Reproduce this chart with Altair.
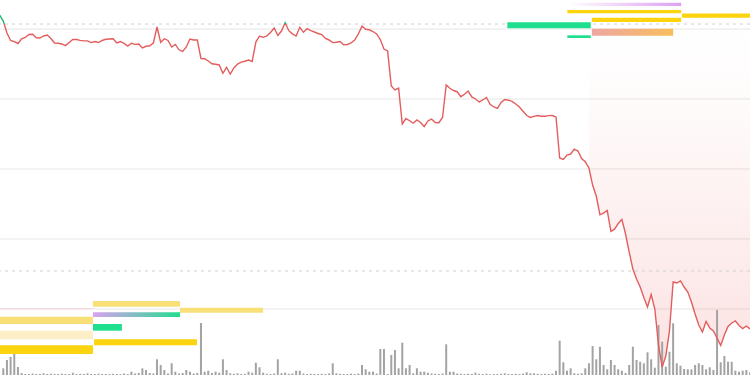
import altair as alt
import pandas as pd

# ---- data ----
# price series, index -1 .. 204
price = [
    102.0,
    101.14, 99.43, 98.36, 98.2, 97.93, 98.6, 98.79, 99.21, 99.24, 98.74,
    98.71, 99.0, 99.14, 98.64, 98.0, 97.96, 97.86, 97.63, 98.07, 98.5,
    98.49, 98.37, 98.31, 98.31, 98.06, 98.21, 98.07, 98.36, 98.53, 98.57,
    98.61, 98.0, 98.2, 97.94, 97.57, 97.97, 97.81, 97.86, 97.29, 97.53,
    97.6, 98.0, 100.29, 98.1, 98.61, 98.36, 97.43, 97.79, 97.03, 96.81,
    97.43, 98.57, 98.43, 98.43, 95.79, 95.76, 95.43, 95.04, 94.96, 94.86,
    93.67, 94.53, 93.57, 94.43, 95.0, 95.26, 95.39, 95.57, 95.36, 98.14,
    99.0, 98.81, 99.0, 99.5, 100.14, 99.07, 99.71, 100.9, 99.76, 99.31,
    99.0, 100.24, 99.53, 100.07, 99.76, 99.57, 99.36, 99.21, 98.64, 98.43,
    98.06, 98.1, 98.21, 97.74, 97.79, 98.0, 98.43, 99.29, 100.4, 99.96,
    99.89, 99.64, 99.29, 98.5, 97.14, 96.86, 91.86, 91.29, 91.57, 86.43,
    87.21, 86.89, 86.54, 87.0, 86.64, 86.07, 86.86, 87.14, 86.64, 86.61,
    87.36, 92.0, 91.53, 91.21, 91.04, 90.33, 90.67, 91.14, 90.29, 90.0,
    89.57, 89.86, 90.21, 89.24, 88.86, 88.67, 89.5, 89.93, 89.83, 89.67,
    89.29, 88.86, 88.24, 87.64, 87.36, 87.51, 87.63, 87.53, 87.54, 87.63,
    87.64, 87.43, 81.57, 81.36, 82.0, 82.14, 82.83, 82.57, 81.5, 81.03,
    80.14, 77.71, 76.14, 73.46, 73.69, 74.07, 71.1, 71.4, 72.21, 72.79,
    70.71, 68.14, 65.71, 64.29, 63.14, 61.64, 60.29, 62.07, 60.0, 54.86,
    51.71, 53.29, 56.86, 63.86, 63.71, 64.0, 63.14, 62.43, 61.0, 59.29,
    57.71, 56.71, 58.21, 57.29, 56.86, 55.86, 54.79, 56.29, 57.5, 58.0,
    58.31, 57.64, 57.21, 57.57, 57.14,
]
price_idx = list(range(-1, 205))

# volume series, index 0 .. 204
volume = [
    6.7, 15, 18, 21, 8, 2, 1, 1, 1.5, 1,
    1, 1.7, 1, 1.2, 1, 1, 1.3, 1, 1, 2.3,
    1, 1.2, 1, 1.7, 1, 1, 1.3, 1, 1, 1,
    1.2, 1, 1, 1.5, 1, 3.3, 1.5, 2, 6.7, 5,
    2, 1.5, 15.7, 10, 5, 1.5, 11.7, 3.3, 1.5, 2,
    5, 3.3, 1.5, 2, 52, 3.3, 4.3, 2, 3.3, 2.3,
    15.7, 5, 1.7, 1.2, 1.7, 1, 1.2, 3.3, 2.3, 12.3,
    7.7, 2.3, 1.2, 1, 1.5, 15.7, 1.7, 2.3, 1.2, 1.5,
    4.3, 4.3, 1.5, 1, 1.2, 1, 1, 1.2, 1, 1.5,
    11.7, 1.7, 1.2, 1, 1, 1.3, 1, 1.5, 10, 5.7,
    3.3, 3.3, 1.5, 26, 26, 1, 20, 25, 6.7, 32.3,
    6.7, 10, 1.7, 6.7, 3.3, 3.3, 2.3, 1.5, 1.2, 1,
    1.5, 30.7, 3.3, 3.3, 1.5, 1.2, 1, 1.3, 1, 2.3,
    1.2, 1, 1.3, 0.7, 1, 1, 1.2, 1.7, 1, 1,
    1.2, 1, 1.3, 2.7, 1.7, 1.7, 1.2, 1, 1.2, 1,
    1.3, 4.3, 34.3, 12.7, 4.3, 6.7, 1.7, 1.2, 1.7, 6.7,
    11.7, 29, 15.7, 28.3, 10, 5.7, 15, 10, 5.7, 4.3,
    2, 10, 28.3, 15, 13.3, 11.7, 22.7, 15.7, 7.3, 50,
    33.3, 8.3, 23.3, 51.7, 11.7, 9.3, 6, 5.7, 5.7, 10,
    11.7, 10, 5.7, 7.7, 5, 65, 12.7, 19, 13.3, 13.3,
    4.3, 3.3, 4.3, 5, 2.7,
]
volume_idx = list(range(0, 205))

grid_levels = [60, 70, 80, 90, 100]
dash_levels = [100.71, 65.43]
area_start = 160  # shaded drawdown region starts here

# horizontal level bands
lvl_x0 = [154.3, 154.1, 185.4, 160.8, 137.7, 160.8, 154.1,
          24.5, 48.3, -1, 24.5, 24.5, -1, 24.8, -1, -1]
lvl_x1 = [185.2, 185.2, 206, 185.2, 160.5, 183.0, 160.5,
          48.3, 70.96, 24.5, 48.3, 32.4, 24.5, 52.9, 24.5, 24.5]
lvl_top = [103.76, 102.71, 102.21, 101.61, 100.96, 100.04, 99.1,
           61.14, 60.19, 58.9, 59.53, 57.86, 56.9, 55.67, 54.81, 60.12]
lvl_bot = [103.29, 102.24, 101.61, 101.0, 100.11, 99.04, 98.71,
           60.33, 59.47, 57.86, 58.86, 56.9, 55.67, 54.81, 53.57, 59.96]
lvl_kind = ["fadePurple", "gold", "gold", "gold", "green", "salmonOrange", "green",
            "lightGold", "lightGold", "lightGold", "purpleGreen", "green", "cream",
            "gold", "gold", "pink"]

kind_colors = {
    "gold": "#FBD30F",
    "lightGold": "#F8DF78",
    "green": "#1FDF8E",
    "cream": "#FCEEC6",
    "pink": "#F4D3DC",
}

# ---- frames ----
df_price = pd.DataFrame({"i": price_idx, "p": price})
df_area = df_price[df_price["i"] >= area_start].copy()
df_area["top"] = dash_levels[0]
df_vol = pd.DataFrame({"i": volume_idx, "v": volume})
df_grid = pd.DataFrame({"lvl": grid_levels})
df_dash = pd.DataFrame({"lvl": dash_levels})
df_lvl = pd.DataFrame({"x0": lvl_x0, "x1": lvl_x1, "top": lvl_top,
                       "bot": lvl_bot, "kind": lvl_kind})
df_lvl["col"] = df_lvl["kind"].map(kind_colors)
df_solid = df_lvl[df_lvl["col"].notna()]

XS = alt.Scale(domain=[-0.9, 204.0], nice=False, zero=False)
PS = alt.Scale(domain=[50.571, 104.143], nice=False, zero=False)
VS = alt.Scale(domain=[0, 375], nice=False, zero=True)

RED = "#E35D5D"
GREEN = "#22B573"
thr = dash_levels[0]
off = (max(price) - thr) / (max(price) - min(price))

grid = alt.Chart(df_grid).mark_rule(color="#E6E6E6", strokeWidth=1).encode(
    y=alt.Y("lvl:Q", scale=PS, axis=None))

dash = alt.Chart(df_dash).mark_rule(color="#CFCFCF", strokeWidth=1, strokeDash=[3, 4]).encode(
    y=alt.Y("lvl:Q", scale=PS, axis=None))

area = alt.Chart(df_area).mark_area(
    clip=True,
    fill=alt.Gradient(
        gradient="linear",
        stops=[alt.GradientStop(color="rgba(240,110,110,0)", offset=0),
               alt.GradientStop(color="rgba(240,110,110,0.03)", offset=0.25),
               alt.GradientStop(color="rgba(240,110,110,0.10)", offset=0.55),
               alt.GradientStop(color="rgba(240,110,110,0.20)", offset=1)],
        x1=0, x2=0, y1=0, y2=1),
).encode(
    x=alt.X("i:Q", scale=XS, axis=None),
    y=alt.Y("p:Q", scale=PS, axis=None),
    y2="top:Q")

vol = alt.Chart(df_vol).mark_rule(color="#A3A3A3", strokeWidth=2).encode(
    x=alt.X("i:Q", scale=XS, axis=None),
    y=alt.Y("v:Q", scale=VS, axis=None),
    y2=alt.datum(0))

line = alt.Chart(df_price).mark_line(
    clip=True, strokeWidth=1.4,
    color=alt.Gradient(
        gradient="linear",
        stops=[alt.GradientStop(color=GREEN, offset=0),
               alt.GradientStop(color=GREEN, offset=off),
               alt.GradientStop(color=RED, offset=off),
               alt.GradientStop(color=RED, offset=1)],
        x1=0, x2=0, y1=0, y2=1),
).encode(
    x=alt.X("i:Q", scale=XS, axis=None),
    y=alt.Y("p:Q", scale=PS, axis=None))

solid = alt.Chart(df_solid).mark_rect(clip=True).encode(
    x=alt.X("x0:Q", scale=XS, axis=None), x2="x1:Q",
    y=alt.Y("top:Q", scale=PS, axis=None), y2="bot:Q",
    color=alt.Color("col:N", scale=None))


def grad_rect(kind, c0, c1):
    return alt.Chart(df_lvl).transform_filter(
        alt.datum.kind == kind
    ).mark_rect(
        clip=True,
        fill=alt.Gradient(gradient="linear",
                          stops=[alt.GradientStop(color=c0, offset=0),
                                 alt.GradientStop(color=c1, offset=1)],
                          x1=0, x2=1, y1=0, y2=0),
    ).encode(
        x=alt.X("x0:Q", scale=XS, axis=None), x2="x1:Q",
        y=alt.Y("top:Q", scale=PS, axis=None), y2="bot:Q")


g1 = grad_rect("fadePurple", "rgba(222,160,242,0)", "#DCA0F2")
g2 = grad_rect("salmonOrange", "#EEA6A2", "#F8BE5C")
g3 = grad_rect("purpleGreen", "#D9A2F0", "#22DC8E")

chart = alt.layer(grid, area, dash, vol, line, solid, g1, g2, g3).resolve_scale(
    y="independent"
).properties(
    width=750, height=375, padding=0, autosize="none"
).configure_view(stroke=None)

chart.save("out.html", embed_options={"renderer": "svg", "actions": False})
